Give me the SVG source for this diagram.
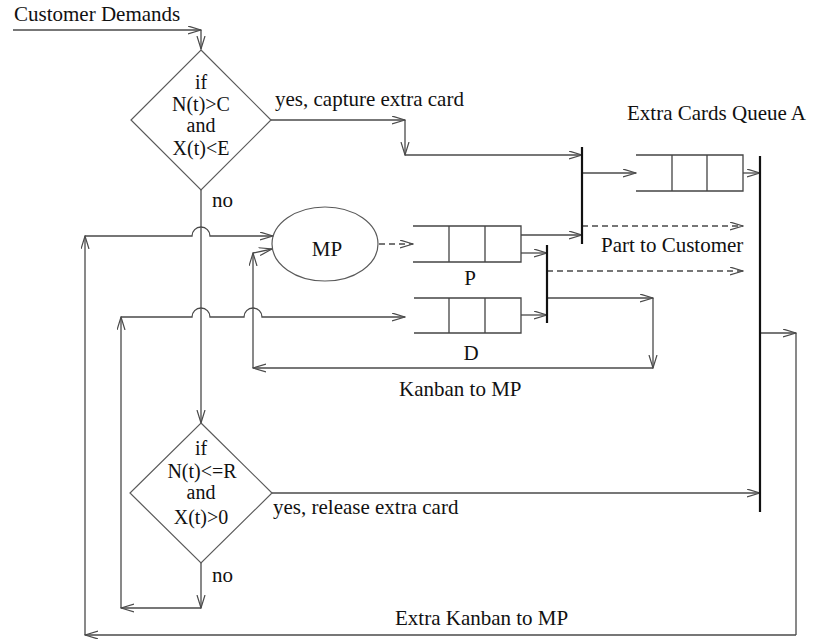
<svg xmlns="http://www.w3.org/2000/svg" width="813" height="639" viewBox="0 0 813 639">
<style>
text{font-family:"Liberation Serif","Times New Roman",serif;font-size:21px;fill:#111}
.c{text-anchor:middle}
.d{font-size:20px}
.ln{fill:none;stroke:#4a4a4a;stroke-width:1.3}
.ar{marker-end:url(#ah)}
.dash{stroke-dasharray:6 4}
.shape{fill:none;stroke:#5a5a5a;stroke-width:1.2}
.q{fill:none;stroke:#444;stroke-width:1.3}
.bar{stroke:#111;stroke-width:2.2}
</style>
<defs>
<marker id="ah" markerUnits="userSpaceOnUse" markerWidth="14" markerHeight="10" refX="13" refY="4.5" orient="auto">
<path d="M0,0.5 L13,4.5 L0,8.5" fill="none" stroke="#4a4a4a" stroke-width="1.2"/>
</marker>
</defs>
<rect width="813" height="639" fill="#fff"/>
<g id="connectors">
<path class="ln ar" d="M13,30 H201"/>
<path class="ln ar" d="M201,30 V49"/>
<path class="ln ar" d="M271,120 H405"/>
<path class="ln ar" d="M405,120 V155"/>
<path class="ln ar" d="M405,155 H582"/>
<path class="ln ar" d="M582,173 H636"/>
<path class="ln ar" d="M743,173 H760"/>
<path class="ln ar dash" d="M582,226 H743"/>
<path class="ln ar dash" d="M547,271 H743"/>
<path class="ln ar" d="M521,235 H582"/>
<path class="ln ar" d="M521,253 H547"/>
<path class="ln ar" d="M521,315 H547"/>
<path class="ln ar dash" d="M379,244 H413"/>
<path class="ln ar" d="M547,298 H653"/>
<path class="ln ar" d="M653,298 V368"/>
<path class="ln ar" d="M653,368 H253"/>
<path class="ln ar" d="M253,368 V253"/>
<path class="ln ar" d="M253,253 L272,249"/>
<path class="ln ar" d="M201,190 V423"/>
<path class="ln ar" d="M201,563 V608"/>
<path class="ln ar" d="M201,608 H121"/>
<path class="ln ar" d="M121,608 V317"/>
<path class="ln ar" d="M121,317 H192 A9,9 0 0 1 210,317 H244 A9,9 0 0 1 262,317 H405"/>
<path class="ln ar" d="M272,493 H760"/>
<path class="ln ar" d="M760,333 H796"/>
<path class="ln" d="M796,333 V635"/>
<path class="ln ar" d="M796,635 H85"/>
<path class="ln ar" d="M85,635 V236"/>
<path class="ln ar" d="M85,236 H192 A9,9 0 0 1 210,236 H273"/>
</g>
<g id="label-customer"><text x="14" y="21">Customer Demands</text></g>
<g id="decision-capture">
<polygon class="shape" points="201,50 271,120 201,190 131,120"/>
<text class="c d" x="201" y="89">if</text>
<text class="c d" x="201" y="111">N(t)&gt;C</text>
<text class="c d" x="201" y="132">and</text>
<text class="c d" x="201" y="155">X(t)&lt;E</text>
<text x="275" y="106">yes, capture extra card</text>
<text x="212" y="207">no</text>
</g>
<g id="decision-release">
<polygon class="shape" points="201,423 272,493 201,563 130,493"/>
<text class="c d" x="201" y="455">if</text>
<text class="c d" x="202" y="478">N(t)&lt;=R</text>
<text class="c d" x="201" y="499">and</text>
<text class="c d" x="201" y="524">X(t)&gt;0</text>
<text x="273" y="514">yes, release extra card</text>
<text x="212" y="582">no</text>
</g>
<g id="mp">
<ellipse class="shape" cx="325" cy="244" rx="53" ry="37"/>
<text class="c" x="327" y="256">MP</text>
</g>
<g id="queue-p">
<path class="q" d="M413,226 H521 V262 H413 M449,226 V262 M485,226 V262"/>
<text class="c" x="470" y="285">P</text>
</g>
<g id="queue-d">
<path class="q" d="M414,298 H521 V333 H414 M449,298 V333 M485,298 V333"/>
<text class="c" x="471" y="360">D</text>
</g>
<g id="queue-a">
<path class="q" d="M636,155 H743 V191 H636 M672,155 V191 M707,155 V191"/>
<text x="627" y="120">Extra Cards Queue A</text>
</g>
<g id="sync-1"><path class="bar" d="M582,147 V244"/></g>
<g id="sync-2"><path class="bar" d="M760,156 V512"/></g>
<g id="sync-3"><path class="bar" d="M547,245 V323"/></g>
<g id="labels">
<text x="601" y="252">Part to Customer</text>
<text x="399" y="396">Kanban to MP</text>
<text x="395" y="625">Extra Kanban to MP</text>
</g>
</svg>
